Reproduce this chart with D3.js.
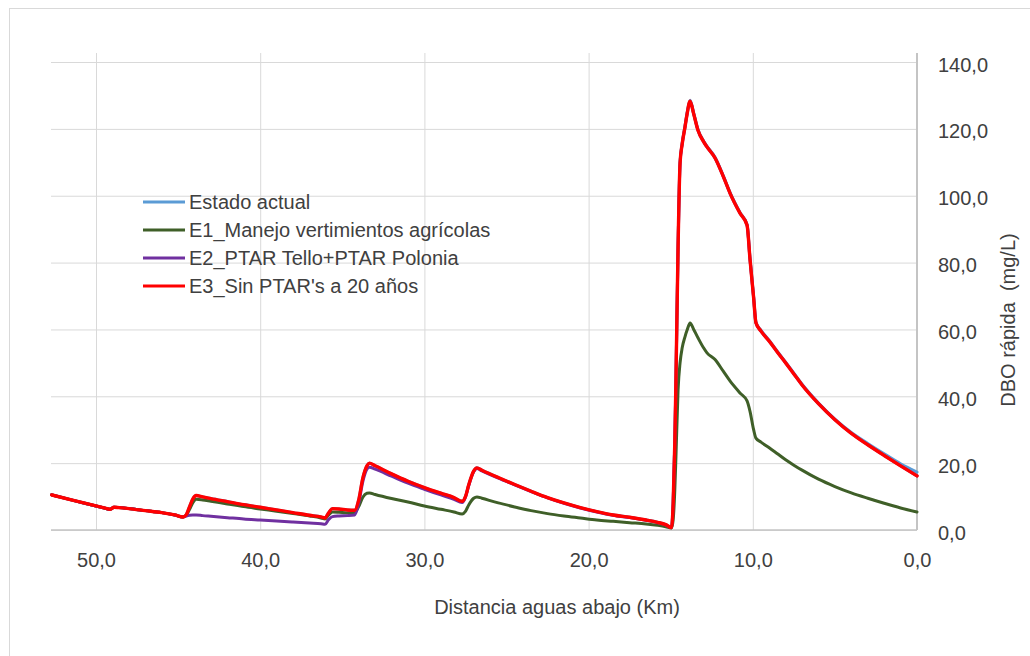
<!DOCTYPE html>
<html>
<head>
<meta charset="utf-8">
<script src="https://cdn.jsdelivr.net/npm/d3@7/dist/d3.min.js"></script>
<style>
  html, body { margin: 0; padding: 0; background: #ffffff; }
  svg { display: block; font-family: "Liberation Sans", Arial, sans-serif; }
</style>
</head>
<body>
<svg id="chart" width="1030" height="656"></svg>
<script>
// ---- Data ----
const distanceKm = [
  52.7, 51.5, 50.5, 49.5, 49.15, 48.9, 48.6, 48.0, 47.0, 46.0,
  45.2, 44.7, 44.5, 44.3, 44.1, 43.9, 43.5, 43.0, 42.0, 41.0,
  40.0, 39.0, 38.0, 37.0, 36.3, 36.05, 35.85, 35.6, 35.2, 34.7,
  34.25, 34.0, 33.75, 33.5, 33.35, 33.0, 32.0, 31.0, 30.0, 29.0,
  28.2, 27.7, 27.5, 27.3, 27.0, 26.8, 26.5, 25.5, 24.5, 23.5,
  22.5, 21.5, 20.5, 19.5, 18.5, 17.5, 16.5, 15.8, 15.3, 14.95,
  14.85, 14.75, 14.68, 14.55, 14.43, 14.3, 14.13, 14.0, 13.82, 13.6,
  13.34, 13.0, 12.79, 12.3, 11.8, 11.39, 10.78, 10.35, 10.17, 9.95,
  9.81, 9.5, 9.0, 8.5, 8.0, 7.5, 7.0, 6.0, 5.0, 4.0,
  3.0, 2.0, 1.0, 0.0
];

const estadoActual = [
  10.5, 9.0, 7.8, 6.6, 6.2, 6.8, 6.7, 6.4, 5.8, 5.2,
  4.5, 3.9, 4.6, 7.0, 9.3, 10.3, 9.9, 9.4, 8.5, 7.6,
  6.8, 6.0, 5.2, 4.4, 3.9, 3.6, 5.0, 6.4, 6.3, 6.0,
  5.9, 9.0, 15.5, 19.2, 20.0, 19.2, 16.8, 14.6, 12.7, 11.0,
  9.7, 8.6, 10.0, 13.5, 17.6, 18.6, 17.9, 15.7, 13.6, 11.6,
  9.7, 8.1, 6.7, 5.5, 4.5, 3.8, 3.0, 2.3, 1.6, 0.7,
  8.0, 26.0, 45.0, 85.0, 110.0, 115.7, 120.8, 124.8, 128.6, 124.7,
  119.8, 116.4, 114.8, 111.5, 106.0, 101.0, 95.0, 91.4, 81.2, 69.8,
  62.2, 59.7, 56.7, 53.4, 50.2, 46.9, 43.6, 38.0, 33.2, 29.2,
  25.9, 22.8, 19.8, 17.3
];

const e1Manejo = [
  10.5, 9.0, 7.8, 6.6, 6.2, 6.8, 6.7, 6.4, 5.8, 5.2,
  4.5, 3.9, 4.4, 6.2, 8.2, 9.2, 9.0, 8.6, 7.8, 7.0,
  6.3, 5.6, 4.9, 4.2, 3.6, 3.3, 4.4, 5.4, 5.3, 5.1,
  5.2, 7.0, 9.8, 11.0, 11.1, 10.6, 9.4, 8.4, 7.2, 6.2,
  5.4, 4.8, 5.6, 7.5, 9.5, 9.9, 9.5, 8.1, 6.9, 5.8,
  4.9, 4.2, 3.6, 3.0, 2.6, 2.2, 1.8, 1.4, 1.0, 0.6,
  3.0, 12.0, 22.0, 42.0, 50.0, 54.5, 57.8, 59.8, 61.9, 60.0,
  57.5, 54.5, 53.0, 51.0, 47.5, 44.6, 41.0, 38.6, 35.5, 30.0,
  27.5, 26.3, 24.6, 22.8, 21.0, 19.4, 17.9, 15.2, 13.0, 11.1,
  9.5, 8.0, 6.6, 5.4
];

const e2Ptar = [
  10.5, 9.0, 7.8, 6.6, 6.2, 6.8, 6.7, 6.4, 5.8, 5.2,
  4.5, 3.9, 4.2, 4.4, 4.5, 4.5, 4.3, 4.1, 3.7, 3.3,
  3.0, 2.7, 2.4, 2.1, 1.9, 1.7, 3.0, 4.0, 4.2, 4.3,
  4.5, 8.0, 14.5, 18.2, 18.8, 18.2, 16.1, 14.0, 12.2, 10.5,
  9.2, 8.2, 9.8, 13.3, 17.4, 18.4, 17.7, 15.5, 13.5, 11.5,
  9.6, 8.0, 6.6, 5.4, 4.4, 3.7, 2.9, 2.2, 1.5, 0.7,
  8.0, 26.0, 45.0, 85.0, 109.8, 115.5, 120.5, 124.5, 128.3, 124.5,
  119.6, 116.2, 114.6, 111.3, 105.8, 100.8, 94.8, 91.2, 81.0, 69.5,
  62.0, 59.5, 56.5, 53.2, 50.0, 46.7, 43.4, 37.8, 33.0, 28.9,
  25.5, 22.3, 19.2, 16.2
];

const e3SinPtar = [
  10.5, 9.0, 7.8, 6.6, 6.2, 6.8, 6.7, 6.4, 5.8, 5.2,
  4.5, 3.9, 4.6, 7.0, 9.3, 10.3, 9.9, 9.4, 8.5, 7.6,
  6.8, 6.0, 5.2, 4.4, 3.9, 3.6, 5.0, 6.4, 6.3, 6.0,
  5.9, 9.0, 15.5, 19.2, 20.0, 19.2, 16.8, 14.6, 12.7, 11.0,
  9.7, 8.6, 10.0, 13.5, 17.6, 18.6, 17.9, 15.7, 13.6, 11.6,
  9.7, 8.1, 6.7, 5.5, 4.5, 3.8, 3.0, 2.3, 1.6, 0.7,
  8.0, 26.0, 45.0, 85.0, 109.8, 115.5, 120.5, 124.5, 128.3, 124.5,
  119.6, 116.2, 114.6, 111.3, 105.8, 100.8, 94.8, 91.2, 81.0, 69.5,
  62.0, 59.5, 56.5, 53.2, 50.0, 46.7, 43.4, 37.8, 33.0, 28.9,
  25.5, 22.3, 19.2, 16.2
];

const seriesNames = ["Estado actual", "E1_Manejo vertimientos agrícolas", "E2_PTAR Tello+PTAR Polonia", "E3_Sin PTAR's a 20 años"];
const seriesColors = ["#5B9BD5", "#3F5F28", "#7030A0", "#FF0000"];
const seriesValues = [estadoActual, e1Manejo, e2Ptar, e3SinPtar];
const xTicks = [50, 40, 30, 20, 10, 0];
const yTicks = [0, 20, 40, 60, 80, 100, 120, 140];
const xTitle = "Distancia aguas abajo (Km)";
const yTitle = "DBO rápida  (mg/L)";

// ---- Layout ----
(function draw() {
  const svg = d3.select("#chart");
  const pL = 51, pR = 917, pB = 530, pT = 53;
  const x = d3.scaleLinear().domain([52.74, 0]).range([pL, pR]);
  const y = d3.scaleLinear().domain([0, 142.7]).range([pB, pT]);
  const fmt = d => d3.format(".1f")(d).replace(".", ",");
  const FONT = "'Liberation Sans', Arial, sans-serif";

  svg.append("rect").attr("width", 1030).attr("height", 656).attr("fill", "#ffffff");
  // outer chart border
  svg.append("rect").attr("x", 9.5).attr("y", 8.5).attr("width", 1200).attr("height", 800)
    .attr("fill", "none").attr("stroke", "#d9d9d9").attr("stroke-width", 1);

  // Vertical grid + x labels
  const gx = svg.append("g").attr("transform", `translate(0,${pB})`)
    .call(d3.axisBottom(x).tickValues(xTicks).tickFormat(fmt).tickSize(-(pB - pT)));
  gx.select(".domain").remove();
  gx.selectAll(".tick line").attr("stroke", "#d9d9d9").attr("stroke-width", 1);
  gx.selectAll(".tick text").attr("y", 37).attr("dy", 0)
    .attr("fill", "#404040").style("font-size", "20px").style("font-family", FONT);

  // Horizontal grid + y labels (right side)
  const gy = svg.append("g").attr("transform", `translate(${pR},0)`)
    .call(d3.axisRight(y).tickValues(yTicks).tickFormat(fmt).tickSize(-(pR - pL)));
  gy.select(".domain").remove();
  gy.selectAll(".tick line").attr("stroke", "#d9d9d9").attr("stroke-width", 1);
  gy.selectAll(".tick text").attr("x", 21).attr("dy", "0.45em").attr("text-anchor", "start")
    .attr("fill", "#404040").style("font-size", "20px").style("font-family", FONT);

  // Axis lines
  svg.append("line").attr("x1", pL).attr("x2", pR).attr("y1", pB).attr("y2", pB)
    .attr("stroke", "#c4c4c4").attr("stroke-width", 1.6);
  svg.append("line").attr("x1", pR).attr("x2", pR).attr("y1", pT).attr("y2", pB)
    .attr("stroke", "#c4c4c4").attr("stroke-width", 2);

  // Lines
  const line = d3.line()
    .x((d, i) => x(distanceKm[i]))
    .y(d => y(d))
    .curve(d3.curveMonotoneX);

  const widths = [3, 3, 3, 3.4];
  seriesValues.forEach((vals, k) => {
    svg.append("path")
      .datum(vals)
      .attr("d", line)
      .attr("fill", "none")
      .attr("stroke", seriesColors[k])
      .attr("stroke-width", widths[k])
      .attr("stroke-linejoin", "round")
      .attr("stroke-linecap", "round");
  });

  // Legend
  const legend = svg.append("g");
  seriesNames.forEach((name, k) => {
    const cy = 202 + k * 28;
    legend.append("line").attr("x1", 143).attr("x2", 185).attr("y1", cy).attr("y2", cy)
      .attr("stroke", seriesColors[k]).attr("stroke-width", 3);
    legend.append("text").attr("x", 189).attr("y", cy + 7).text(name)
      .attr("fill", "#404040").style("font-size", "20px").style("font-family", FONT);
  });

  // Axis titles
  svg.append("text").attr("x", 557).attr("y", 614).attr("text-anchor", "middle")
    .attr("fill", "#404040").style("font-size", "20px").style("font-family", FONT).text(xTitle);
  svg.append("text")
    .attr("transform", `translate(1015,320) rotate(-90)`)
    .attr("text-anchor", "middle").attr("fill", "#404040")
    .style("font-size", "20px").style("font-family", FONT).style("white-space", "pre").text(yTitle);
})();
</script>
</body>
</html>
